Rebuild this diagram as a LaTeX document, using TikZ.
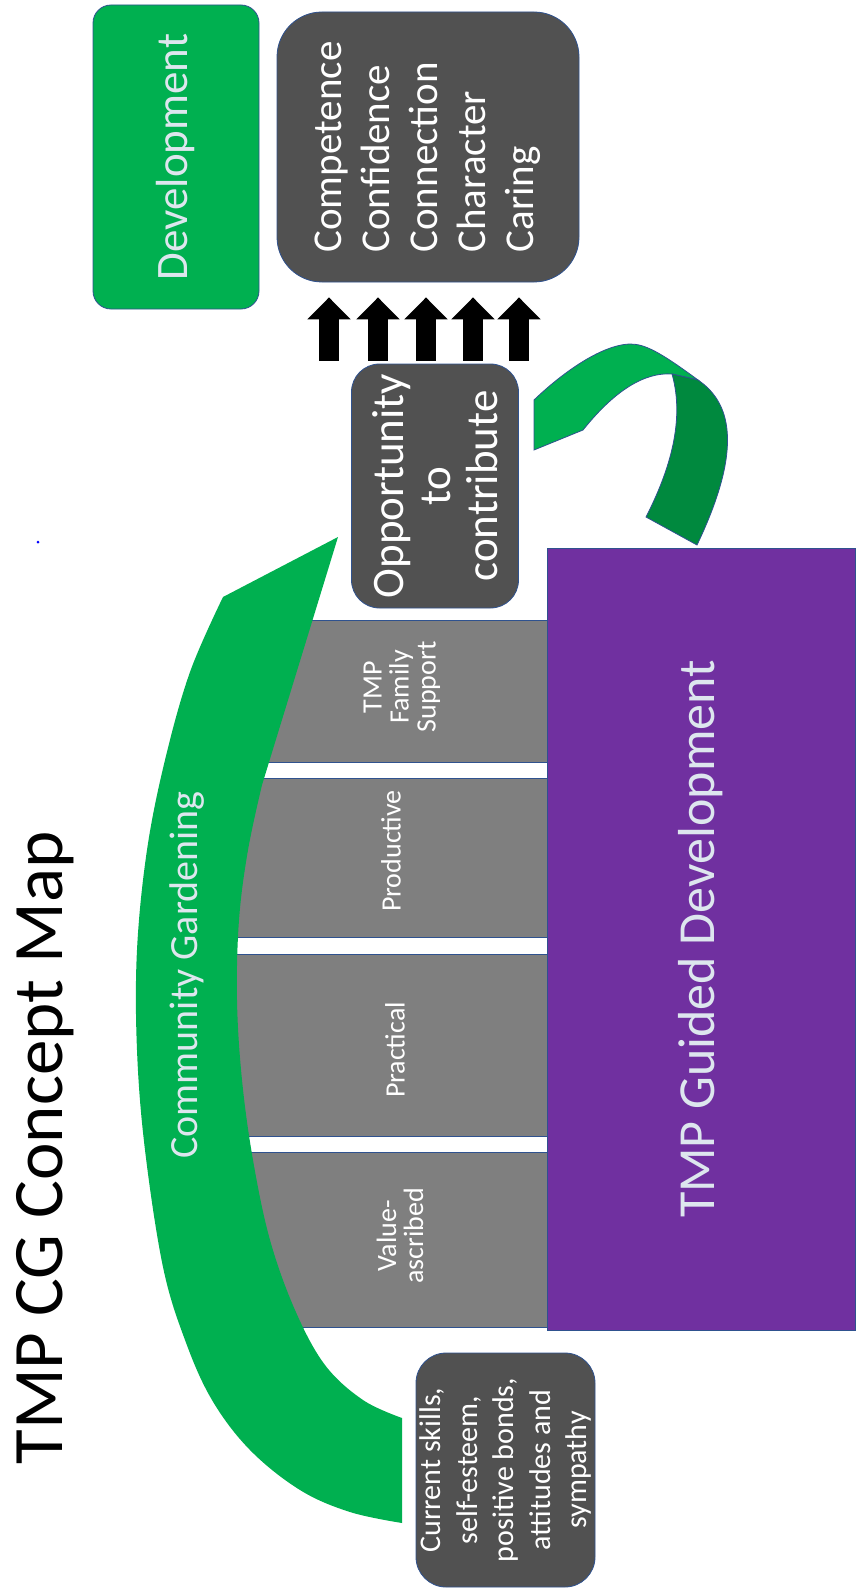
\documentclass[tikz,border=0pt]{standalone}
\usepackage{fontspec}
\setmainfont{Carlito}
\usetikzlibrary{arrows.meta}

\definecolor{cggreen}{HTML}{00B050}
\definecolor{cgdarkgreen}{HTML}{00893E}
\definecolor{boxgray}{HTML}{515151}
\definecolor{pillargray}{HTML}{7F7F7F}
\definecolor{tmppurple}{HTML}{7030A0}
\definecolor{edgeblue}{HTML}{2F528F}
\definecolor{paletext}{HTML}{DDE6EE}

\begin{document}
\begin{tikzpicture}[
    x=1pt, y=-1pt,
    darkbox/.style={rectangle, draw=edgeblue, line width=0.8pt, fill=boxgray,
        text=white, rotate=90, inner sep=0pt, align=center},
    pillar/.style={rectangle, draw=edgeblue, line width=0.8pt, fill=pillargray,
        rotate=90, inner sep=0pt, minimum height=319pt},
    pillarlabel/.style={text=white, rotate=90, inner sep=0pt, align=center,
        font=\fontsize{28}{27}\selectfont},
    uparrow/.style={black, line width=20pt, -{Triangle[width=42pt, length=22pt]},
        shorten <=3pt, shorten >=15pt}
]
    \useasboundingbox (0,0) rectangle (855,1589);

    \node[rotate=90, font=\fontsize{71}{71}\selectfont] (title) at (45,1148) {TMP CG Concept Map};
    \fill[blue] (38,542) circle (1.5pt);

    \node[darkbox, fill=cggreen, text=paletext, rounded corners=18pt,
        minimum width=304pt, minimum height=166pt,
        font=\fontsize{45}{45}\selectfont] (dev) at (176,157) {Development};
    \node[darkbox, rounded corners=45pt, minimum width=270pt, minimum height=302pt,
        align=left, font=\fontsize{41}{48}\selectfont] (comp) at (428,147)
        {Competence\\Confidence\\Connection\\Character\\Caring};
    \node[darkbox, rounded corners=28pt, minimum width=244pt, minimum height=167pt,
        font=\fontsize{45}{47}\selectfont] (opp) at (435,486)
        {Opportunity\\to\\contribute};

    \foreach \x in {329,378,426,473,519}
        \draw[uparrow] (\x,0 |- opp.east) -- (\x,0 |- comp.west);

    \node[pillar, minimum width=142pt] (family) at (387.5,691) {};
    \node[pillar, minimum width=159pt] (productive) at (387.5,857.5) {};
    \node[pillar, minimum width=182pt] (practical) at (387.5,1045) {};
    \node[pillar, minimum width=175pt] (valued) at (387.5,1239.5) {};
    \node[pillarlabel] (familytext) at (402,687) {TMP\\Family\\Support};
    \node[pillarlabel] (productivetext) at (391,851) {Productive};
    \node[pillarlabel] (practicaltext) at (395,1050) {Practical};
    \node[pillarlabel] (valuedtext) at (400,1236) {Value-\\ascribed};

    \node[rectangle, rotate=90, fill=tmppurple, draw=edgeblue, line width=0.8pt,
        minimum width=782pt, minimum height=308pt, text=paletext,
        font=\fontsize{52}{52}\selectfont] (guided) at (701,939) {TMP Guided Development};

    % big curved arrow round the pillars
    \fill[cggreen] plot[smooth, tension=0.6] coordinates {(223,597) (190,672) (165,760)
        (147,850) (137,950) (137,1050) (145,1150) (163,1267) (185,1340) (212,1400)
        (250,1450) (300,1490) (350,1512) (402,1523)}
        -- (402,1418)
        -- plot[smooth, tension=0.6] coordinates {(402,1418) (363,1400) (325,1365)
        (295,1310) (270,1240) (253,1160) (242,1080) (237,1000) (239,920) (248,850) (262,785)}
        -- (338,537) -- cycle;
    \node[rotate=90, text=paletext, font=\fontsize{40}{40}\selectfont] (garden) at (187,975)
        {Community Gardening};

    % twisted ribbon arrow
    \filldraw[fill=cggreen, draw=edgeblue, line width=0.8pt]
        (534,400) .. controls (560,375) and (600,345) .. (630,344)
        .. controls (645,344) and (660,352) .. (698,380)
        -- (672,374) .. controls (645,372) and (615,390) .. (583,430)
        -- (534,450) -- cycle;
    \filldraw[fill=cgdarkgreen, draw=edgeblue, line width=0.8pt]
        (672,374) -- (698,380) .. controls (735,405) and (740,455) .. (697,545)
        -- (646,517) .. controls (670,470) and (685,420) .. (672,374) -- cycle;

    \node[darkbox, rounded corners=30pt, minimum width=234pt, minimum height=179pt,
        font=\fontsize{30}{36.5}\selectfont] (current) at (505.5,1470)
        {Current skills,\\self-esteem,\\positive bonds,\\attitudes and\\sympathy};
\end{tikzpicture}
\end{document}
